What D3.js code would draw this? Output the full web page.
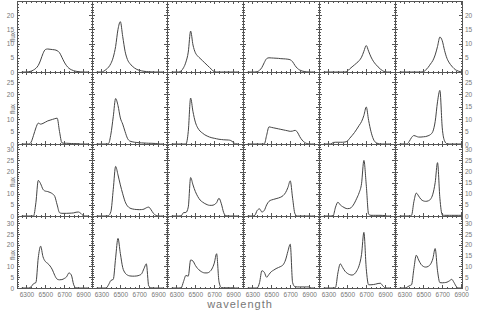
<!DOCTYPE html>
<html>
<head>
<meta charset="utf-8">
<title>Flux profiles</title>
<script src="https://d3js.org/d3.v7.min.js"></script>
<style>
  body { margin: 0; background: #fff; font-family: "Liberation Sans", Arial, sans-serif; }
  .tick text { font-size: 6.5px; fill: #777; font-family: "Liberation Sans", Arial, sans-serif; }
  .frame { fill: none; stroke: #555; stroke-width: 1; shape-rendering: crispEdges; }
  .tick line { shape-rendering: crispEdges; }
  .profile { fill: none; stroke: #444; stroke-width: 1; }
</style>
</head>
<body>
<svg id="chart" width="480" height="310"></svg>
<script>
// shared wavelength grid (Angstrom)
const wavelength = [6250, 6275, 6300, 6325, 6350, 6375, 6400, 6425, 6450, 6475,
                    6500, 6525, 6550, 6575, 6600, 6625, 6650, 6675, 6700, 6725,
                    6750, 6775, 6800, 6825, 6850, 6875, 6900, 6925, 6950];

// flux, one array per panel (row r, column c)
const fluxR1C1 = [0,0,0,0.1,0.3,0.7,1.3,2.3,4.2,6.5,7.9,8.1,8.0,7.9,7.8,7.5,6.8,5.2,3.5,2.2,1.3,0.8,0.45,0.25,0.12,0.05,0,0,0];
const fluxR1C2 = [0,0,0,0.3,0.9,1.7,3.0,5.2,9.0,15.0,17.7,12.5,7.3,4.4,3.0,2.1,1.4,0.9,0.6,0.4,0.25,0.15,0.1,0.05,0.02,0,0,0,0];
const fluxR1C3 = [0,0,0,0,0.4,1.5,3.5,7.0,14.4,9.5,6.8,5.6,4.8,4.0,3.2,2.4,1.6,0.8,0.1,0,0,0,0,0,0,0,0,0,0];
const fluxR1C4 = [0,0,0,0,0.1,0.6,1.6,3.3,4.7,5.0,4.95,4.9,4.85,4.8,4.7,4.65,4.6,4.5,4.3,3.6,2.3,1.3,0.7,0.35,0.15,0.05,0,0,0];
const fluxR1C5 = [0,0,0,0,0,0,0,0,0,0,0.3,1.1,1.8,2.5,3.2,4.0,5.2,7.3,9.3,7.3,5.3,3.8,2.7,1.8,1.0,0.4,0.05,0,0];
const fluxR1C6 = [0,0,0,0,0,0,0,0,0,0,0.1,0.7,1.6,2.8,4.0,6.0,9.0,12.3,11.0,7.5,4.8,3.2,2.1,1.2,0.6,0.25,0.05,0,0];

const fluxR2C1 = [0,0,0,0,0.8,3.5,6.5,8.4,8.0,8.3,8.8,9.3,9.6,9.9,10.2,10.4,5.0,0.5,0.3,0.3,0.25,0.2,0.2,0.15,0.1,0,0,0,0];
const fluxR2C2 = [0,0,0,0,0,0.2,4.0,11.0,18.3,15.5,10.5,8.0,5.0,2.3,1.2,0.9,0.7,0.6,0.5,0.45,0.4,0.35,0.3,0.3,0.25,0.2,0.05,0,0];
const fluxR2C3 = [0,0,0,0,0,0,0,5.0,18.5,13.0,8.8,6.5,5.2,4.4,3.7,3.2,2.8,2.5,2.3,2.1,1.9,1.8,1.7,1.65,1.6,1.4,0.7,0.1,0];
const fluxR2C4 = [0,0,0,0,0,0,0,0,3.5,6.9,6.7,6.5,6.3,6.1,5.9,5.7,5.5,5.3,5.1,5.2,5.5,4.8,3.0,1.6,0.7,0.2,0,0,0];
const fluxR2C5 = [0,0,0,0,0.6,0.7,0.7,0.7,0.7,0.8,1.2,2.3,3.4,4.6,6.0,7.5,9.0,11.5,14.9,9.5,5.0,2.0,0.6,0.2,0,0,0,0,0];
const fluxR2C6 = [0,0,0,0,1.0,2.6,3.4,3.1,2.8,2.8,2.9,3.0,3.3,3.8,5.0,9.0,17.0,21.6,6.5,1.2,0.1,0,0,0,0,0,0,0,0];

const fluxR3C1 = [0,0,0,0,0,0,6.0,16.0,14.5,12.0,11.2,11.0,10.6,10.0,8.8,5.0,1.5,1.2,1.2,1.2,1.25,1.3,1.4,1.7,1.8,1.2,0.2,0,0];
const fluxR3C2 = [0,0,0,0,0,0.2,2.0,12.0,22.3,18.5,14.0,10.0,6.5,4.5,3.6,3.2,3.0,2.9,2.85,2.9,3.1,3.7,4.0,2.8,1.2,0.3,0,0,0];
const fluxR3C3 = [0,0,0,0,0.1,1.5,1.6,4.0,17.3,14.0,11.0,8.8,7.2,6.3,5.6,5.1,4.8,4.8,5.1,6.0,8.0,5.5,1.5,0.1,0,0,0,0,0];
const fluxR3C4 = [0,0,0,0.3,2.5,3.2,1.8,2.5,5.0,6.6,7.2,7.5,7.8,8.1,8.5,9.2,10.5,12.8,15.8,8.0,1.0,0,0,0,0,0,0,0,0];
const fluxR3C5 = [0,0,0,0,0.2,4.0,6.2,5.0,4.2,3.6,3.3,3.4,4.2,5.8,8.0,10.5,14.5,25.0,14.0,0.8,0.3,0.3,0.3,0.3,0.3,0.25,0.2,0,0];
const fluxR3C6 = [0,0,0,0,0,0.3,6.5,10.3,9.0,7.5,6.8,6.6,6.8,7.5,9.8,15.0,24.0,8.0,0.5,0.3,0.3,0.3,0.3,0.3,0.3,0.3,0.3,0,0];

const fluxR4C1 = [0,0,0,0,0.6,2.0,2.5,14.0,19.4,14.5,12.3,11.4,10.2,8.4,5.8,4.1,3.8,3.9,4.4,5.2,7.0,6.0,1.5,0.1,0,0,0,0,0];
const fluxR4C2 = [0,0,0,0,0,1.5,3.5,4.0,14.0,23.0,16.0,9.5,7.0,6.0,5.6,5.5,5.5,5.6,5.9,6.6,9.0,11.2,1.0,0.1,0,0,0,0,0];
const fluxR4C3 = [0,0,0,0,0.1,3.0,5.8,5.5,13.0,12.5,10.5,9.0,8.0,7.3,7.0,7.0,7.5,8.8,11.5,15.9,3.0,0.2,0.1,0.1,0.1,0.1,0.1,0,0];
const fluxR4C4 = [0,0,0,0,0,2.5,8.0,7.3,5.0,6.3,7.6,8.3,9.0,9.5,10.0,10.8,13.0,17.0,20.3,2.5,0.6,0.5,0.5,0.5,0.5,0.5,0.5,0,0];
const fluxR4C5 = [0,0,0,0,0,0.3,7.0,11.2,9.5,7.8,6.8,6.2,6.0,6.5,8.0,10.5,15.5,25.8,9.0,1.5,1.5,1.6,1.8,2.1,2.2,1.0,0.1,0,0];
const fluxR4C6 = [0,0,0,0.3,1.0,1.5,9.0,15.2,13.0,11.0,10.0,9.7,10.0,11.0,13.5,18.3,8.0,2.5,2.4,2.5,2.7,3.3,4.0,2.5,0.6,0,0,0,0];

const panelFlux = [
  [fluxR1C1, fluxR1C2, fluxR1C3, fluxR1C4, fluxR1C5, fluxR1C6],
  [fluxR2C1, fluxR2C2, fluxR2C3, fluxR2C4, fluxR2C5, fluxR2C6],
  [fluxR3C1, fluxR3C2, fluxR3C3, fluxR3C4, fluxR3C5, fluxR3C6],
  [fluxR4C1, fluxR4C2, fluxR4C3, fluxR4C4, fluxR4C5, fluxR4C6]
];

// axis ticks and ranges
const xMajor = [6300, 6500, 6700, 6900];
const xMinor = [6250, 6350, 6400, 6450, 6550, 6600, 6650, 6750, 6800, 6850, 6950];
const yMax = [25, 29, 32.4, 33.4];
const yMajor = [
  [0, 5, 10, 15, 20],
  [0, 5, 10, 15, 20, 25],
  [0, 5, 10, 15, 20, 25, 30],
  [0, 5, 10, 15, 20, 25, 30]
];
// left-hand labels: the "flux" title sits where the 15 label would be in rows 2-4
const yLeftLabels = [
  [0, 5, 10, 15, 20],
  [0, 5, 10, 20, 25],
  [0, 5, 10, 20, 25, 30],
  [0, 5, 10, 20, 25, 30]
];
const fluxTitleY = [37, 109, 182, 255];

// layout
const colEdge = [17, 92, 167, 243, 319, 395, 462];
const rowEdge = [1, 72, 144, 216, 288];
const colPx = (colEdge[5] - colEdge[0]) / 5;   // width of a full column, 6200-7000 A

const svg = d3.select("#chart");
const defs = svg.append("defs");

function minorY(r) {
  const out = [];
  for (let v = 0; v <= yMax[r]; v += 1) if (v % 5 !== 0) out.push(v);
  return out;
}

panelFlux.forEach((row, r) => {
  row.forEach((flux, c) => {
    const x0 = colEdge[c], x1 = colEdge[c + 1];
    const y0 = rowEdge[r], y1 = rowEdge[r + 1];
    const x = d3.scaleLinear().domain([6200, 7000]).range([x0, x0 + colPx]);
    const y = d3.scaleLinear().domain([0, yMax[r]]).range([y1, y0]);
    const xEnd = x.invert(x1);
    const inX = v => v <= xEnd;

    const g = svg.append("g");
    const clipId = `clip-${r}-${c}`;
    defs.append("clipPath").attr("id", clipId)
      .append("rect").attr("x", x0).attr("y", y0).attr("width", x1 - x0).attr("height", y1 - y0);

    // curve
    const pts = wavelength.map((w, i) => [w, flux[i]]);
    g.append("path")
      .attr("class", "profile")
      .attr("clip-path", `url(#${clipId})`)
      .attr("d", d3.line().x(d => x(d[0])).y(d => y(d[1])).curve(d3.curveMonotoneX)(pts));

    const axisStyle = a => a.attr("color", "#555").call(s => s.select(".domain").remove());

    // x ticks, bottom and top
    g.append("g").attr("transform", `translate(0,${y1})`)
      .call(d3.axisBottom(x).tickValues(xMajor.filter(inX)).tickSize(-3).tickFormat(""))
      .call(axisStyle);
    g.append("g").attr("transform", `translate(0,${y1})`)
      .call(d3.axisBottom(x).tickValues(xMinor.filter(inX)).tickSize(-1.5).tickFormat(""))
      .call(axisStyle);
    g.append("g").attr("transform", `translate(0,${y0})`)
      .call(d3.axisTop(x).tickValues(xMajor.filter(inX)).tickSize(-3).tickFormat(""))
      .call(axisStyle);
    g.append("g").attr("transform", `translate(0,${y0})`)
      .call(d3.axisTop(x).tickValues(xMinor.filter(inX)).tickSize(-1.5).tickFormat(""))
      .call(axisStyle);

    // y ticks, left and right
    g.append("g").attr("transform", `translate(${x0},0)`)
      .call(d3.axisLeft(y).tickValues(yMajor[r]).tickSize(-3).tickFormat(""))
      .call(axisStyle);
    g.append("g").attr("transform", `translate(${x0},0)`)
      .call(d3.axisLeft(y).tickValues(minorY(r)).tickSize(-1.5).tickFormat(""))
      .call(axisStyle);
    g.append("g").attr("transform", `translate(${x1},0)`)
      .call(d3.axisRight(y).tickValues(yMajor[r]).tickSize(-3).tickFormat(""))
      .call(axisStyle);
    g.append("g").attr("transform", `translate(${x1},0)`)
      .call(d3.axisRight(y).tickValues(minorY(r)).tickSize(-1.5).tickFormat(""))
      .call(axisStyle);

    // tick labels
    if (r === 3) {
      g.append("g").attr("transform", `translate(0,${y1})`)
        .call(d3.axisBottom(x).tickValues(xMajor.filter(v => v <= xEnd + 5))
          .tickSize(0).tickPadding(4).tickFormat(d3.format("d")))
        .call(axisStyle);
    }
    if (c === 0) {
      g.append("g").attr("transform", `translate(${x0},0)`)
        .call(d3.axisLeft(y).tickValues(yLeftLabels[r]).tickSize(0).tickPadding(3))
        .call(axisStyle);
      g.append("text")
        .attr("transform", `translate(12,${fluxTitleY[r]}) rotate(-90)`)
        .attr("text-anchor", "middle")
        .attr("dominant-baseline", "central")
        .style("font-size", "6.5px")
        .style("fill", "#777")
        .text("flux");
    }
    if (c === 5) {
      g.append("g").attr("transform", `translate(${x1},0)`)
        .call(d3.axisRight(y).tickValues(yMajor[r]).tickSize(0).tickPadding(3))
        .call(axisStyle);
    }

    // frame
    g.append("rect").attr("class", "frame")
      .attr("x", x0).attr("y", y0).attr("width", x1 - x0).attr("height", y1 - y0);
  });
});

svg.append("text")
  .attr("x", 240)
  .attr("y", 308)
  .attr("text-anchor", "middle")
  .style("font-size", "11px")
  .style("letter-spacing", "1px")
  .style("fill", "#777")
  .text("wavelength");
</script>
</body>
</html>
